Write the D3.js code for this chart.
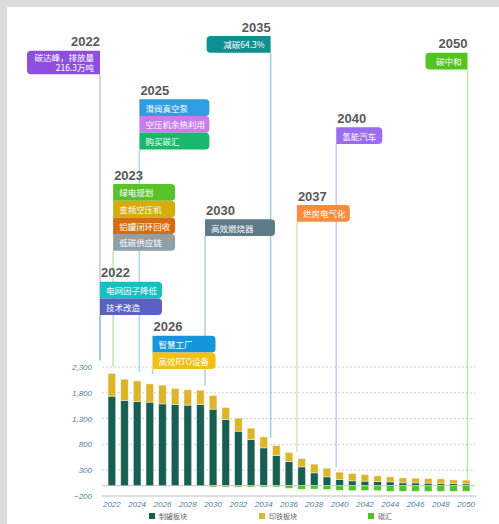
<!DOCTYPE html>
<html>
<head>
<meta charset="utf-8">
<script src="https://cdn.jsdelivr.net/npm/d3@7/dist/d3.min.js"></script>
<style>
  html, body { margin: 0; padding: 0; background: #dcdcdc; }
  svg { display: block; }
</style>
</head>
<body>
<svg id="chart" width="499" height="524"></svg>
<script>
// ---- data ----
const years = [2022, 2023, 2024, 2025, 2026, 2027, 2028, 2029, 2030, 2031, 2032, 2033, 2034, 2035, 2036,
  2037, 2038, 2039, 2040, 2041, 2042, 2043, 2044, 2045, 2046, 2047, 2048, 2049, 2050];
// 制罐板块
const canBlock = [1734, 1651, 1631, 1618, 1585, 1573, 1560, 1573, 1482, 1283, 1056, 895, 733, 585, 469,
  364, 248, 171, 120, 93, 87, 81, 74, 54, 54, 48, 43, 43, 35];
// 印铁板块
const printBlock = [440, 413, 400, 355, 363, 310, 297, 277, 266, 232, 252, 219, 213, 194, 174,
  163, 169, 168, 142, 143, 130, 109, 97, 97, 91, 92, 89, 69, 72];
// 碳汇
const carbonSink = [0, 0, 0, 0, 0, 0, 0, 0, -25, -25, -25, -25, -25, -25, -50,
  -70, -65, -75, -90, -95, -95, -95, -110, -110, -110, -110, -110, -110, -110];

const seriesNames = ['制罐板块', '印铁板块', '碳汇'];
const yTicks = [-200, 300, 800, 1300, 1800, 2300];
const xTickYears = [2022, 2024, 2026, 2028, 2030, 2032, 2034, 2036, 2038, 2040, 2042, 2044, 2046, 2048, 2050];

// milestones
const milestoneYears = [2022, 2035, 2050, 2025, 2040, 2023, 2037, 2030, 2022, 2026];
const milestoneItems = [
  [['碳达峰，排放量', '216.3万吨']],
  [['减碳64.3%']],
  [['碳中和']],
  [['滑阀真空泵'], ['空压机余热利用'], ['购买碳汇']],
  [['氢能汽车']],
  [['绿电规划'], ['变频空压机'], ['铝罐闭环回收'], ['低碳供应链']],
  [['烘房电气化']],
  [['高效燃烧器']],
  [['电网因子降低'], ['技术改造']],
  [['智慧工厂'], ['高效RTO设备']]
];

// ---- style / layout ----
const seriesColors = ['#175f51', '#dcb52c', '#4fc31f'];
const milestoneColors = [
  ['#8e4fe0'], ['#0f8f8f'], ['#55c41f'],
  ['#2f9de0', '#c87de8', '#19b86c'],
  ['#9b6cf0'],
  ['#58c22a', '#d4ad0a', '#d86c12', '#8fa0a8'],
  ['#f98d3c'], ['#5d7b88'],
  ['#16bfc0', '#5b62c4'],
  ['#1396db', '#f2c010']
];
// side: 'L' = box sits left of its leader line, 'R' = right of it
const milestoneLayout = [
  { side: 'L', top: 50.7, w: 73 },
  { side: 'L', top: 36, w: 64 },
  { side: 'L', top: 52.7, w: 42 },
  { side: 'R', top: 99.3, w: 70 },
  { side: 'R', top: 127.3, w: 46 },
  { side: 'R', top: 184, w: 62 },
  { side: 'R', top: 205, w: 53 },
  { side: 'R', top: 219.3, w: 70 },
  { side: 'R', top: 281.7, w: 62 },
  { side: 'R', top: 335.7, w: 63 }
];

const W = 499, H = 524;
const svg = d3.select('#chart');

// card
svg.append('rect').attr('x', 7).attr('y', 7).attr('width', W - 7).attr('height', H - 7).attr('fill', '#fff');

const x = d3.scaleBand().domain(years).range([103, 475]).padding(0.4);
const y = d3.scaleLinear().domain([-200, 2300]).range([496, 367]);
const annX = d3.scaleLinear().domain([2022, 2050]).range([100, 467.5]);

const table = years.map((yr, i) => ({ year: yr, a: canBlock[i], b: printBlock[i], c: carbonSink[i] }));
const stack = d3.stack().keys(['a', 'b', 'c']).offset(d3.stackOffsetDiverging);
const layers = stack(table);

// grid
const grid = svg.append('g');
grid.selectAll('line.g').data(yTicks.filter(d => d > -200)).join('line')
  .attr('x1', 102).attr('x2', 475)
  .attr('y1', d => y(d)).attr('y2', d => y(d))
  .attr('stroke', '#cfcfcf').attr('stroke-width', 1).attr('stroke-dasharray', '2,2');
grid.append('line').attr('x1', 102).attr('x2', 475).attr('y1', y(0)).attr('y2', y(0))
  .attr('stroke', '#c4c4c4').attr('stroke-width', 1);
grid.append('line').attr('x1', 102).attr('x2', 476).attr('y1', y(-200)).attr('y2', y(-200))
  .attr('stroke', '#dedede').attr('stroke-width', 2);

// y tick labels
svg.append('g').selectAll('text').data(yTicks).join('text')
  .attr('x', 92).attr('y', d => y(d) + 3)
  .attr('text-anchor', 'end')
  .attr('font-family', 'Liberation Sans, Arial, sans-serif')
  .attr('font-style', 'italic').attr('font-size', 8).attr('fill', '#4f7f9c')
  .text(d => d3.format(',')(d));

// x tick labels
svg.append('g').selectAll('text').data(xTickYears).join('text')
  .attr('x', d => x(d) + x.bandwidth() / 2).attr('y', 506.5)
  .attr('text-anchor', 'middle')
  .attr('font-family', 'Liberation Sans, Arial, sans-serif')
  .attr('font-style', 'italic').attr('font-size', 8).attr('fill', '#4f7f9c')
  .text(d => d);

// leader lines (behind boxes)
const totals = years.map((yr, i) => canBlock[i] + printBlock[i]);
const lineG = svg.append('g');
milestoneYears.forEach((yr, k) => {
  const lay = milestoneLayout[k];
  const items = milestoneItems[k];
  const h = boxHeights(items).reduce((s, v) => s + v, 0);
  const lx = annX(yr);
  const end = y(totals[years.indexOf(yr)]) - (13 - 0.45 * (yr - 2022));
  lineG.append('line')
    .attr('x1', lx).attr('x2', lx)
    .attr('y1', lay.top + h).attr('y2', end)
    .attr('stroke', milestoneColors[k][0]).attr('stroke-opacity', 0.4).attr('stroke-width', 1.5);
});

// bars
svg.append('g').selectAll('g').data(layers).join('g')
  .attr('fill', (d, i) => seriesColors[i])
  .selectAll('rect').data(d => d).join('rect')
  .attr('x', d => x(d.data.year))
  .attr('width', x.bandwidth())
  .attr('y', d => y(Math.max(d[0], d[1])))
  .attr('height', d => Math.abs(y(d[0]) - y(d[1])))
  .attr('stroke', '#fff').attr('stroke-opacity', 0.5).attr('stroke-width', 0.8);

// milestone boxes
function boxHeights(items) {
  return items.map(lines => lines.length === 1 ? 16.7 : 6.5 + lines.length * 8.5);
}
function boxPath(bx, by, w, h, r, squareLeft) {
  if (squareLeft) {
    return `M${bx},${by}H${bx + w - r}Q${bx + w},${by} ${bx + w},${by + r}V${by + h - r}Q${bx + w},${by + h} ${bx + w - r},${by + h}H${bx}Z`;
  }
  return `M${bx + w},${by}V${by + h}H${bx + r}Q${bx},${by + h} ${bx},${by + h - r}V${by + r}Q${bx},${by} ${bx + r},${by}Z`;
}

const boxG = svg.append('g');
milestoneYears.forEach((yr, k) => {
  const lay = milestoneLayout[k];
  const items = milestoneItems[k];
  const hs = boxHeights(items);
  const lx = annX(yr);
  const bx = lay.side === 'R' ? lx : lx - lay.w;
  const g = boxG.append('g');

  g.append('text')
    .attr('x', lay.side === 'R' ? bx + 1 : bx + lay.w)
    .attr('y', lay.top - 4.5)
    .attr('text-anchor', lay.side === 'R' ? 'start' : 'end')
    .attr('font-family', 'Liberation Sans, Arial, sans-serif')
    .attr('font-weight', 'bold').attr('font-size', 13).attr('fill', '#595959')
    .text(yr);

  let top = lay.top;
  items.forEach((lines, j) => {
    const h = hs[j];
    g.append('path')
      .attr('d', boxPath(bx, top, lay.w, h, 4, lay.side === 'R'))
      .attr('fill', milestoneColors[k][j]);
    const t = g.append('text')
      .attr('font-family', 'Noto Sans CJK SC, sans-serif')
      .attr('font-size', 8.5).attr('fill', '#fff')
      .attr('text-anchor', lay.side === 'R' ? 'start' : 'end');
    const tx = lay.side === 'R' ? bx + 6 : bx + lay.w - 6;
    if (lines.length === 1) {
      t.attr('x', tx).attr('y', top + h / 2).attr('dominant-baseline', 'central').text(lines[0]);
    } else {
      lines.forEach((ln, m) => {
        t.append('tspan').attr('x', tx).attr('y', top + 10 + m * 10.5).text(ln);
      });
    }
    top += h;
  });
});

// legend
const legendX = [149, 259, 368];
const legend = svg.append('g').selectAll('g').data(seriesNames).join('g')
  .attr('transform', (d, i) => `translate(${legendX[i]},513)`);
legend.append('rect').attr('width', 6).attr('height', 6).attr('fill', (d, i) => seriesColors[i]);
legend.append('text').attr('x', 10).attr('y', 3).attr('dominant-baseline', 'central')
  .attr('font-family', 'Noto Sans CJK SC, sans-serif')
  .attr('font-size', 7).attr('fill', '#666')
  .text(d => d);
</script>
</body>
</html>
